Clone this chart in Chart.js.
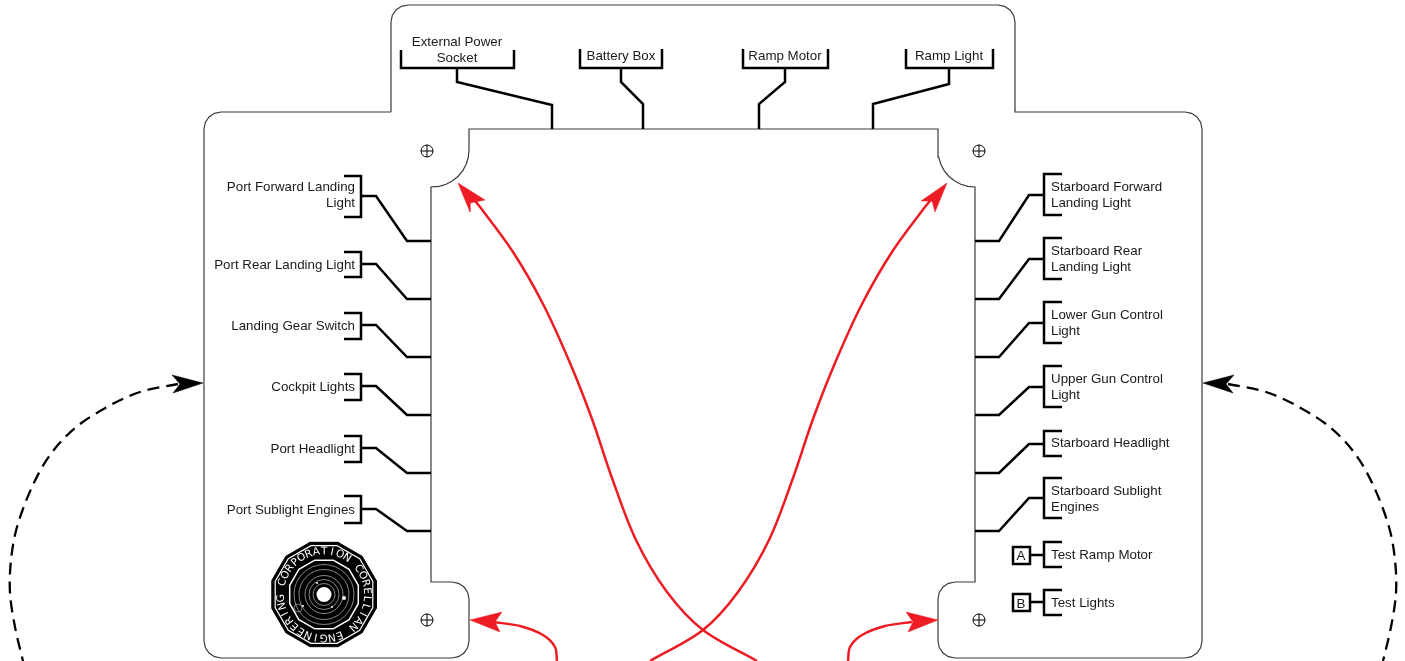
<!DOCTYPE html>
<html>
<head>
<meta charset="utf-8">
<title>Panel wiring</title>
<script src="https://cdn.jsdelivr.net/npm/chart.js@4"></script>
<style>
  html, body { margin: 0; padding: 0; background: #fff; overflow: hidden; }
  canvas { display: block; }
</style>
</head>
<body>
<canvas id="panel" width="1405" height="661"></canvas>
<script>
// panel outline
const outline = [[391,112],[391,22],[392.3,15.5],[396,10],[401.5,6.3],[408,5],[998,5],[1004.5,6.3],[1010,10],[1013.7,15.5],[1015,22],[1015,112],
  [1185,112],[1191.5,113.3],[1197,117],[1200.7,122.5],[1202,129],[1202,641],[1200.7,647.5],[1197,653],[1191.5,656.7],[1185,658],
  [955,658],[948.5,656.7],[943,653],[939.3,647.5],[938,641],[938,599],[939.3,592.5],[943,587],[948.5,583.3],[955,582],[975,582],
  [975,187],[967.8,186.3],[960.8,184.2],[954.4,180.8],[948.8,176.2],[944.2,170.6],[940.8,164.2],[938.7,157.2],[938,150],[938,129],
  [469,129],[469,150],[468.3,157.2],[466.2,164.2],[462.8,170.6],[458.2,176.2],[452.6,180.8],[446.2,184.2],[439.2,186.3],[431,187],
  [431,582],[452,582],[458.5,583.3],[464,587],[467.7,592.5],[469,599],[469,641],[467.7,647.5],[464,653],[458.5,656.7],[452,658],
  [221,658],[214.5,656.7],[209,653],[205.3,647.5],[204,641],[204,129],[205.3,122.5],[209,117],[214.5,113.3],[221,112],[391,112]];

// brackets and the wires that run from them to the cutout
const topWires = [
  [[401,50],[401,68],[514,68],[514,50]],
  [[457,68],[457,82],[552,105],[552,129]],
  [[580,49],[580,68],[662,68],[662,49]],
  [[621,68],[621,82],[643,104],[643,129]],
  [[743,49],[743,68],[828,68],[828,49]],
  [[785,68],[785,82],[759,104],[759,129]],
  [[906,49],[906,68],[993,68],[993,49]],
  [[949,68],[949,84],[873,104],[873,129]]
];
const portWires = [
  [[344,176],[361,176],[361,217],[344,217]],
  [[361,196],[376,196],[407,241],[431,241]],
  [[344,252],[361,252],[361,277],[344,277]],
  [[361,264],[376,264],[407,299],[431,299]],
  [[344,313],[361,313],[361,339],[344,339]],
  [[361,325],[376,325],[407,357],[431,357]],
  [[344,374],[361,374],[361,400],[344,400]],
  [[361,386],[376,386],[407,415],[431,415]],
  [[344,436],[361,436],[361,462],[344,462]],
  [[361,448],[376,448],[407,473],[431,473]],
  [[344,496],[361,496],[361,523],[344,523]],
  [[361,509],[376,509],[407,531],[431,531]]
];
const starboardWires = [
  [[1062,174],[1044,174],[1044,215],[1062,215]],
  [[1044,195],[1029,195],[999,241],[975,241]],
  [[1062,238],[1044,238],[1044,279],[1062,279]],
  [[1044,259],[1029,259],[999,299],[975,299]],
  [[1062,302],[1044,302],[1044,343],[1062,343]],
  [[1044,323],[1029,323],[999,357],[975,357]],
  [[1062,366],[1044,366],[1044,407],[1062,407]],
  [[1044,387],[1029,387],[999,415],[975,415]],
  [[1062,431],[1044,431],[1044,456],[1062,456]],
  [[1044,444],[1029,444],[999,473],[975,473]],
  [[1062,478],[1044,478],[1044,518],[1062,518]],
  [[1044,498],[1029,498],[999,531],[975,531]],
  [[1062,542],[1044,542],[1044,567],[1062,567]],
  [[1030,555],[1044,555]],
  [[1062,590],[1044,590],[1044,615],[1062,615]],
  [[1030,602],[1044,602]]
];
const testBoxes = [
  [[1013,547],[1030,547],[1030,564],[1013,564],[1013,547],[1030,547]],
  [[1013,594],[1030,594],[1030,611],[1013,611],[1013,594],[1030,594]]
];

// arrows
const redCurves = [
  [[470,195],[480,207],[513,252],[543,304],[570,363],[592,419],[612,478],[636,540],[667,592],[703,630],[757,661]],
  [[935,195],[925,207],[892,252],[862,304],[835,363],[813,419],[793,478],[769,540],[738,592],[703,630],[650,661]],
  [[493,622],[520,626],[543,635],[555,647],[557,661]],
  [[912,622],[885,626],[862,635],[850,647],[848,661]]
];
const redHeads = [
  [[458,183],[485,200],[470,203],[470,212],[458,183]],
  [[947,183],[921,201],[932,201],[935,212],[947,183]],
  [[470,620],[502,612],[495,622],[500,632],[470,620]],
  [[938,620],[906,612],[913,622],[908,632],[938,620]]
];
const dashedCurves = [
  [[178,384],[140,392],[107,407],[75,428],[50,455],[32,487],[17,527],[11,560],[10,593],[15,627],[23,661]],
  [[1228,384],[1266,392],[1299,407],[1331,428],[1356,455],[1374,487],[1389,527],[1395,560],[1396,593],[1391,627],[1383,661]]
];
const blackHeads = [
  [[203,383],[172,375],[180,384],[173,393],[203,383]],
  [[1203,383],[1234,375],[1226,384],[1233,393],[1203,383]]
];

// mounting screws
const screws = [[427,151],[979,151],[427,620],[979,620]];

// badge
const badgeOuter = [[338,542.3],[362.2,556.3],[376.2,580.5],[376.2,608.5],[362.2,632.7],[338,646.7],[310,646.7],[285.8,632.7],[271.8,608.5],[271.8,580.5],[285.8,556.3],[310,542.3],[338,542.3]];
const badgeMiddle = [[337.1,545.7],[359.7,558.8],[372.8,581.4],[372.8,607.6],[359.7,630.2],[337.1,643.3],[310.9,643.3],[288.3,630.2],[275.2,607.6],[275.2,581.4],[288.3,558.8],[310.9,545.7],[337.1,545.7]];
const badgeInner = [[333.2,560.2],[349.1,569.4],[358.3,585.3],[358.3,603.7],[349.1,619.6],[333.2,628.8],[314.8,628.8],[298.9,619.6],[289.7,603.7],[289.7,585.3],[298.9,569.4],[314.8,560.2],[333.2,560.2]];
const badgeCentre = [[324,594.5]];
const orbitSizes = [11, 15, 19, 25, 30];
const planets = [[344,598],[317,583],[332,607],[303,606]];
const planetSizes = [2, 1, 1, 1];
const moon = [[298,608]];
const badgeText = 'CORPORATION CORELLIAN ENGINEERING ';

// labels
const labelsTop = ['External Power', 'Socket', 'Battery Box', 'Ramp Motor', 'Ramp Light'];
const labelsTopAt = [[457,42],[457,58],[621,56],[785,56],[949,56]];
const labelsPort = ['Port Forward Landing', 'Light', 'Port Rear Landing Light', 'Landing Gear Switch', 'Cockpit Lights', 'Port Headlight', 'Port Sublight Engines'];
const labelsPortAt = [[355,187],[355,203],[355,265],[355,326],[355,387],[355,449],[355,510]];
const labelsStarboard = ['Starboard Forward', 'Landing Light', 'Starboard Rear', 'Landing Light', 'Lower Gun Control', 'Light', 'Upper Gun Control', 'Light', 'Starboard Headlight', 'Starboard Sublight', 'Engines', 'Test Ramp Motor', 'Test Lights'];
const labelsStarboardAt = [[1051,187],[1051,203],[1051,251],[1051,267],[1051,315],[1051,331],[1051,379],[1051,395],[1051,443],[1051,491],[1051,507],[1051,555],[1051,603]];
const labelsBox = ['A', 'B'];
const labelsBoxAt = [[1021,556],[1021,604]];

const toXY = pts => pts.map(p => ({ x: p[0], y: p[1] }));

function line(pts, color, width, extra) {
  return Object.assign({
    data: toXY(pts),
    showLine: true,
    borderColor: color,
    borderWidth: width,
    borderJoinStyle: 'miter',
    backgroundColor: color,
    pointRadius: 0,
    fill: false,
    clip: false
  }, extra);
}

function dots(pts, radius, style, stroke, fillColor, width) {
  return {
    data: toXY(pts),
    showLine: false,
    pointStyle: style,
    pointRadius: radius,
    pointBorderColor: stroke,
    pointBackgroundColor: fillColor,
    pointBorderWidth: width,
    clip: false
  };
}

let datasets = [];
datasets.push(line(outline, '#3a3a3a', 1.2));
topWires.concat(portWires, starboardWires, testBoxes).forEach(w => datasets.push(line(w, '#000', 2.5)));
redCurves.forEach(c => datasets.push(line(c, '#ed1c24', 2.5, { tension: 0.33, capBezierPoints: false })));
redHeads.forEach(h => datasets.push(line(h, '#ed1c24', 0.5, { fill: 'shape' })));
dashedCurves.forEach(c => datasets.push(line(c, '#000', 2.3, { tension: 0.33, capBezierPoints: false, borderDash: [12, 7] })));
blackHeads.forEach(h => datasets.push(line(h, '#000', 0.5, { fill: 'shape' })));
datasets.push(dots(screws, 6, 'circle', '#000', 'rgba(0,0,0,0)', 1));
datasets.push(dots(screws, 6, 'cross', '#000', 'rgba(0,0,0,0)', 1));
datasets.push(line(badgeOuter, '#000', 1, { fill: 'shape' }));
datasets.push(line(badgeMiddle, '#fff', 1.2));
datasets.push(line(badgeInner, '#fff', 1.5));
orbitSizes.forEach(r => datasets.push(dots(badgeCentre, r, 'circle', '#ddd', 'rgba(0,0,0,0)', 0.6)));
datasets.push(dots(badgeCentre, 7.5, 'circle', '#fff', '#fff', 0));
datasets.push({ data: toXY(planets), showLine: false, pointRadius: planetSizes, pointBackgroundColor: '#fff', pointBorderColor: '#fff', pointBorderWidth: 0 });
datasets.push(dots(moon, 4, 'circle', '#ccc', 'rgba(0,0,0,0)', 0.6));
// later entries sit on top
datasets.forEach((d, i) => { d.order = -i; });

const textPlugin = {
  id: 'panelText',
  afterDatasetsDraw(chart) {
    const ctx = chart.ctx;
    const xs = chart.scales.x;
    const ys = chart.scales.y;
    ctx.save();
    ctx.fillStyle = '#1a1a1a';
    ctx.font = '13.33px "Liberation Sans", Arial, sans-serif';
    ctx.textBaseline = 'middle';
    const put = (names, at, align) => {
      ctx.textAlign = align;
      names.forEach((t, i) => ctx.fillText(t, xs.getPixelForValue(at[i][0]), ys.getPixelForValue(at[i][1])));
    };
    put(labelsTop, labelsTopAt, 'center');
    put(labelsPort, labelsPortAt, 'right');
    put(labelsStarboard, labelsStarboardAt, 'left');
    put(labelsBox, labelsBoxAt, 'center');

    // lettering round the badge, clockwise from the left
    const cx = xs.getPixelForValue(badgeCentre[0][0]);
    const cy = ys.getPixelForValue(badgeCentre[0][1]);
    ctx.fillStyle = '#fff';
    ctx.font = '10.5px "DejaVu Sans", sans-serif';
    ctx.textAlign = 'center';
    const step = Math.PI * 2 / badgeText.length;
    badgeText.split('').forEach((ch, i) => {
      const a = Math.PI * 1.09 + i * step;
      ctx.save();
      ctx.translate(cx + 43 * Math.cos(a), cy + 43 * Math.sin(a));
      ctx.rotate(a + Math.PI / 2);
      ctx.fillText(ch, 0, 0);
      ctx.restore();
    });
    ctx.restore();
  }
};

new Chart(document.getElementById('panel').getContext('2d'), {
  type: 'scatter',
  data: { datasets: datasets },
  options: {
    responsive: false,
    animation: false,
    events: [],
    layout: { autoPadding: false, padding: 0 },
    plugins: { legend: { display: false }, tooltip: { enabled: false } },
    scales: {
      x: { type: 'linear', display: false, min: 0, max: 1405 },
      y: { type: 'linear', display: false, min: 0, max: 661, reverse: true }
    }
  },
  plugins: [textPlugin]
});
</script>
</body>
</html>
